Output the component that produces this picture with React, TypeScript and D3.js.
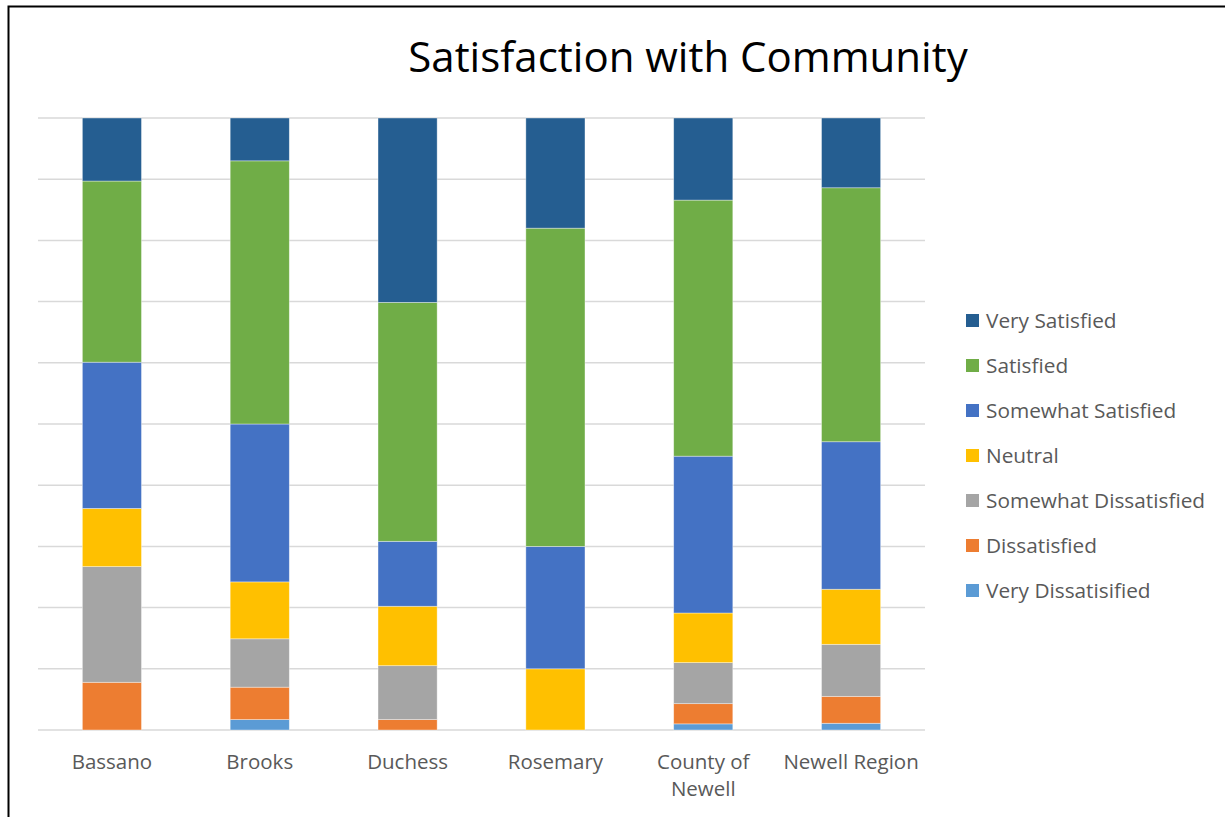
import React, { useEffect, useRef } from "react";
import * as d3 from "d3";

const categories = ["Bassano", "Brooks", "Duchess", "Rosemary", "County of Newell", "Newell Region"];
const seriesNames = [
  "Very Satisfied",
  "Satisfied",
  "Somewhat Satisfied",
  "Neutral",
  "Somewhat Dissatisfied",
  "Dissatisfied",
  "Very Dissatisified",
];
const seriesColors = ["#255E91", "#70AD47", "#4472C4", "#FFC000", "#A5A5A5", "#ED7D31", "#5B9BD5"];

const verySatisfied = [10.3, 7.0, 30.1, 18.0, 13.4, 11.4];
const satisfied = [29.6, 43.0, 39.0, 52.0, 41.8, 41.5];
const somewhatSatisfied = [23.9, 25.8, 10.6, 20.0, 25.6, 24.1];
const neutral = [9.5, 9.3, 9.7, 10.0, 8.1, 9.0];
const somewhatDissatisfied = [18.9, 7.9, 8.8, 0, 6.7, 8.5];
const dissatisfied = [7.8, 5.3, 1.7, 0, 3.3, 4.4];
const veryDissatisfied = [0, 1.7, 0, 0, 1.0, 1.1];

const yTicks = [0, 10, 20, 30, 40, 50, 60, 70, 80, 90, 100];
const titleText = "Satisfaction with Community";

export default function App() {
  const ref = useRef<SVGSVGElement>(null);

  useEffect(() => {
    const svg = d3.select(ref.current);
    svg.selectAll("*").remove();

    const W = 1225, H = 817;
    const font = "'Open Sans', sans-serif";

    // border
    svg.append("rect").attr("x", 8.5).attr("y", 6.5).attr("width", W + 50).attr("height", H + 50)
      .attr("fill", "none").attr("stroke", "#000").attr("stroke-width", 2);

    const values = [verySatisfied, satisfied, somewhatSatisfied, neutral, somewhatDissatisfied, dissatisfied, veryDissatisfied];
    const rows = categories.map((c, i) => {
      const r: any = { category: c };
      seriesNames.forEach((s, j) => (r[s] = values[j][i]));
      return r;
    });
    const stackKeys = seriesNames.slice().reverse();
    const stacked = d3.stack().keys(stackKeys).offset(d3.stackOffsetExpand)(rows);

    const x = d3.scaleBand().domain(categories).range([38, 925]).paddingInner(0.6).paddingOuter(0.3);
    const y = d3.scaleLinear().domain([0, 100]).range([730, 118]);
    const yf = d3.scaleLinear().domain([0, 1]).range([730, 118]);

    // gridlines
    svg.append("g").selectAll("line").data(yTicks).join("line")
      .attr("x1", 38).attr("x2", 925)
      .attr("y1", (d) => y(d)).attr("y2", (d) => y(d))
      .attr("stroke", "#D9D9D9").attr("stroke-width", 1.5);

    const color = d3.scaleOrdinal<string, string>().domain(seriesNames).range(seriesColors);

    svg.append("g").selectAll("g").data(stacked).join("g")
      .attr("fill", (d: any) => color(d.key))
      .selectAll("rect").data((d: any) => d).join("rect")
      .attr("x", (d: any) => x(d.data.category)!)
      .attr("width", x.bandwidth())
      .attr("y", (d: any) => yf(d[1]))
      .attr("height", (d: any) => Math.max(0, yf(d[0]) - yf(d[1])))
      .attr("stroke", "#ffffff").attr("stroke-opacity", 0.5).attr("stroke-width", 0.75);

    // x labels with wrapping
    const xl = svg.append("g");
    categories.forEach((c) => {
      const cx = x(c)! + x.bandwidth() / 2;
      const t = xl.append("text").attr("x", cx).attr("y", 769)
        .attr("text-anchor", "middle").attr("font-family", font).attr("font-size", 20.5).attr("fill", "#595959");
      const words = c.split(" ");
      let line: string[] = [];
      let tspan = t.append("tspan").attr("x", cx).attr("dy", 0);
      words.forEach((w) => {
        line.push(w);
        tspan.text(line.join(" "));
        if ((tspan.node() as SVGTSpanElement).getComputedTextLength() > x.step() - 6 && line.length > 1) {
          line.pop();
          tspan.text(line.join(" "));
          line = [w];
          tspan = t.append("tspan").attr("x", cx).attr("dy", 27).text(w);
        }
      });
    });

    // title
    svg.append("text").attr("x", 688).attr("y", 72).attr("text-anchor", "middle")
      .attr("font-family", font).attr("font-size", 42).attr("fill", "#000").text(titleText);

    // legend
    const lg = svg.append("g");
    seriesNames.forEach((s, i) => {
      const cy = 321 + i * 45;
      lg.append("rect").attr("x", 966).attr("y", cy - 7).attr("width", 13).attr("height", 13).attr("fill", color(s));
      lg.append("text").attr("x", 986).attr("y", cy + 7).attr("font-family", font).attr("font-size", 20.8)
        .attr("fill", "#595959").text(s);
    });
  }, []);

  return (
    <svg ref={ref} width={1225} height={817}
      style={{ position: "fixed", left: 0, top: 0, background: "#fff", display: "block" }} />
  );
}
